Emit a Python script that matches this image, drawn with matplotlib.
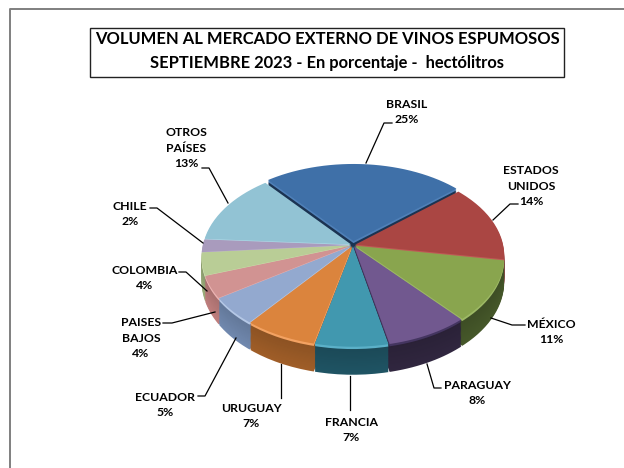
import numpy as np
import matplotlib
matplotlib.use("Agg")
import matplotlib.pyplot as plt
from matplotlib.path import Path
from matplotlib.transforms import Transform, Affine2D
from matplotlib.patches import Rectangle
from matplotlib.lines import Line2D

countries = ["BRASIL", "ESTADOS\nUNIDOS", "MÉXICO", "PARAGUAY", "FRANCIA", "URUGUAY",
             "ECUADOR", "PAISES\nBAJOS", "COLOMBIA", "CHILE", "OTROS\nPAÍSES"]
shares = [24.6, 14, 11, 8, 7, 7, 5, 4, 4.1, 2.3, 13]
title_lines = ["VOLUMEN AL MERCADO EXTERNO DE VINOS ESPUMOSOS",
               "SEPTIEMBRE 2023 - En porcentaje -  hectólitros"]

face_colors = ["#3F70A8", "#AA4643", "#89A54E", "#71588F", "#4198AF", "#DB843D",
               "#93A9CF", "#D19392", "#B9CD96", "#A99BBD", "#92C3D4"]
wall_colors = ["#1F3A5C", "#6E1F1C", "#46582A", "#30263F", "#1F5464", "#A05E28",
               "#7189AF", "#C07F7E", "#9DB07C", "#8D80A0", "#6F9FB0"]
bevel_colors = ["#4F80B8", "#C05A57", "#9DB965", "#443560", "#5BB0C8", "#F3A262",
                "#B5C8E6", "#EBB3B2", "#CFE0B0", "#C3B6D6", "#B0DAE8"]
explode = [0.045, 0.015, 0.015, 0.015, 0.015, 0.015, 0.015, 0.015, 0.015, 0.015, 0.015]
label_xy = [(407, 112), (531, 186), (551, 332), (477, 393), (351, 430), (251, 416),
            (165, 405), (141, 338), (145, 278), (130, 214), (186, 148)]
leaders = [[(392, 123), (384, 123), (366, 163)],
           [(518, 204), (510, 204), (493, 220)],
           [(525, 325), (512, 325), (491, 318)],
           [(441, 388), (434, 388), (427, 364)],
           [(350, 410), (350, 376)],
           [(281, 398), (281, 364)],
           [(198, 396), (205, 396), (236, 338)],
           [(163, 323), (172, 323), (215, 312)],
           [(179, 272), (186, 272), (207, 291)],
           [(150, 208), (157, 208), (203, 243)],
           [(202, 168), (209, 168), (228, 203)]]


class Perspective(Transform):
    """Tilted-disc projection of the unit pie; z is depth below the top face."""
    input_dims = 2
    output_dims = 2

    def __init__(self, a=148.0, b=87.6, k=0.124, h=24.5, z=0.0):
        super().__init__()
        self.a, self.b, self.k, self.h, self.z = a, b, k, h, z

    def transform_non_affine(self, xy):
        xy = np.asarray(xy, float)
        w = 1 + self.k * xy[:, 1]
        return np.column_stack([self.a * xy[:, 0] / w,
                                -(self.b * xy[:, 1] - self.h * self.z) / w])

    def transform_path_non_affine(self, path):
        # flatten the curves at a fine scale, then project the polygon
        big = path.transformed(Affine2D().scale(400))
        poly = big.to_polygons(closed_only=True)[0] / 400.0
        return Path(self.transform_non_affine(poly), closed=True)


fig = plt.figure(figsize=(6.24, 4.68), dpi=100, facecolor="white")
ax = fig.add_axes([0, 0, 1, 1])
plt.rcParams["font.family"] = ["Lato", "DejaVu Sans"]
place = Affine2D().translate(353, 245)


def layer(colors, z):
    wedges, _ = ax.pie(shares, colors=colors, startangle=129.5, counterclock=False,
                       explode=explode, radius=1.0, frame=False,
                       wedgeprops=dict(linewidth=0, antialiased=True))
    for w in wedges:
        w.set_transform(Perspective(z=z) + place + ax.transData)


def mix(c, other, t):
    a = np.array(matplotlib.colors.to_rgb(c))
    b = np.array(matplotlib.colors.to_rgb(other))
    return tuple(a * (1 - t) + b * t)


n = 24
for i in range(n, 0, -1):
    z = i / n
    if z <= 0.12:
        layer(bevel_colors, z)
    else:
        t = (z - 0.12) / 0.88
        layer([mix(c, "black", 0.12 * (1 - t)) for c in wall_colors], z)
layer(face_colors, 0.0)

ax.set_aspect("auto")
ax.set_xlim(0, 624)
ax.set_ylim(468, 0)
ax.axis("off")

# outer chart frame (top and left edges)
ax.add_line(Line2D([10, 10, 624], [468, 9, 9], color="#7f7f7f", lw=1.4))
ax.add_patch(Rectangle((90, 28), 474, 49, fc="white", ec="#222222", lw=1.0))
for line, y in zip(title_lines, (39, 63)):
    ax.text(327, y, line, ha="center", va="center", fontsize=11.9, fontweight="bold", color="black")

for name, share, xy, pts in zip(countries, shares, label_xy, leaders):
    ax.text(xy[0], xy[1], f"{name}\n{share:.0f}%", ha="center", va="center", fontsize=8.8,
            fontweight="bold", color="black", linespacing=1.45)
    xs, ys = zip(*pts)
    ax.add_line(Line2D(xs, ys, color="black", lw=0.9))

fig.savefig("out.png", dpi=100, facecolor="white")
